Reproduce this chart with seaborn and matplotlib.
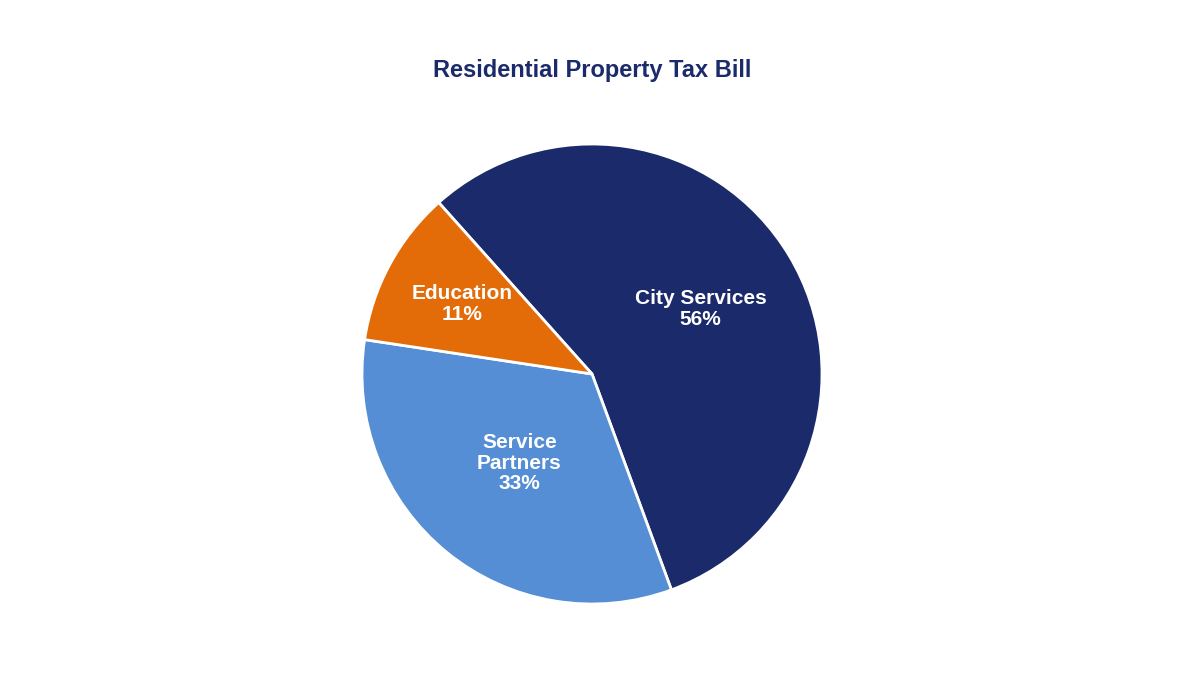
import numpy as np
import matplotlib
matplotlib.use("Agg")
import matplotlib.pyplot as plt
import seaborn as sns

categories = ["City Services", "Service\nPartners", "Education"]
shares = [56, 33, 11]
colors = ["#1B2A6B", "#558ED5", "#E36C09"]
label_dist = [0.55, 0.50, 0.64]

sns.set_theme(style="white")
plt.rcParams["font.family"] = ["Liberation Sans", "DejaVu Sans"]

fig = plt.figure(figsize=(12, 6.75), dpi=100)
ax = fig.add_axes([362 / 1200, 71 / 675, 460 / 1200, 460 / 675])
wedges, _ = ax.pie(shares, colors=colors, startangle=131.8, counterclock=False,
                   radius=1, wedgeprops=dict(edgecolor="white", linewidth=2))
for w, cat, val, d in zip(wedges, categories, shares, label_dist):
    mid = np.deg2rad((w.theta1 + w.theta2) / 2)
    ax.text(d * np.cos(mid), d * np.sin(mid), f"{cat}\n{val}%", ha="center", va="center",
            color="white", fontsize=15, fontweight="bold", linespacing=1.1)
ax.set_xlim(-1, 1)
ax.set_ylim(-1, 1)
ax.set_aspect("equal")

fig.text(592 / 1200, 1 - 70 / 675, "Residential Property Tax Bill", ha="center", va="center",
         fontsize=17, fontweight="bold", color="#1B2A6B")
fig.savefig("out.png", dpi=100, facecolor="white")
